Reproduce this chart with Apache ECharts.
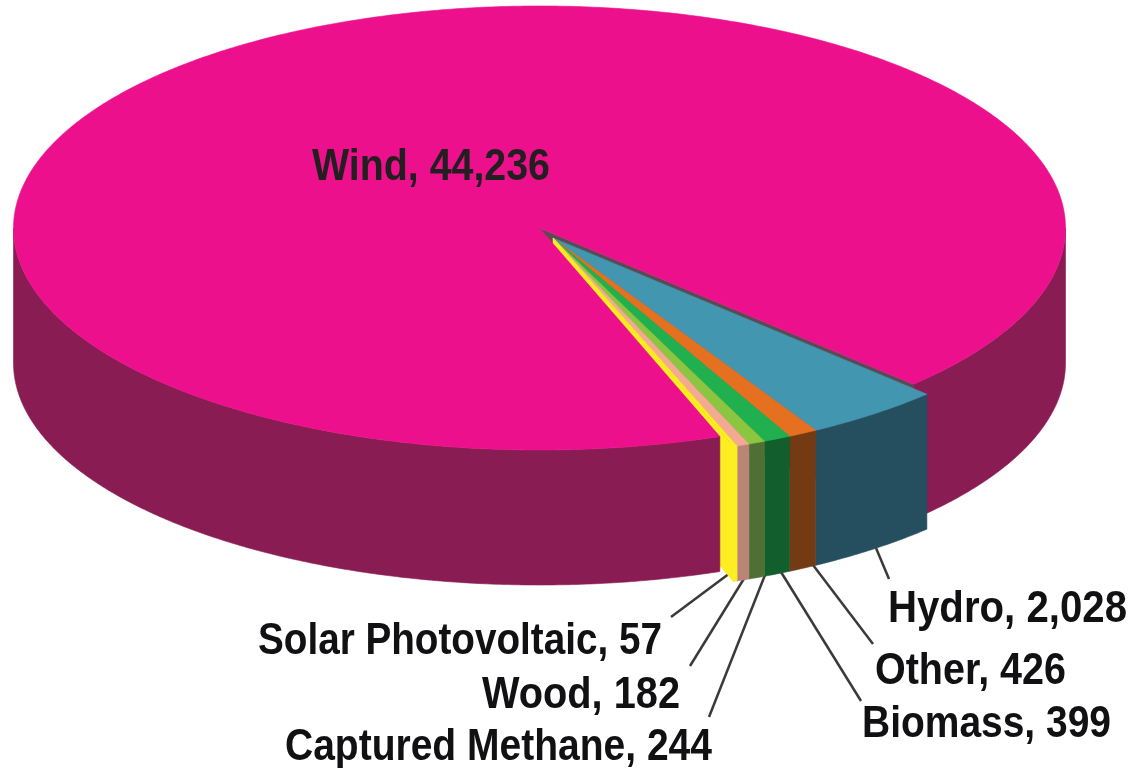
<!DOCTYPE html>
<html>
<head>
<meta charset="utf-8">
<style>
  html, body { margin: 0; background: #fff; }
  #chart { width: 1132px; height: 768px; }
</style>
<script src="https://cdn.jsdelivr.net/npm/echarts@6/dist/echarts.min.js"></script>
</head>
<body>
<div id="chart"></div>
<script>
// clockwise from the right edge of the pulled out wedge
const categories = ['Hydro', 'Other', 'Biomass', 'Captured Methane', 'Wood', 'Solar Photovoltaic', 'Wind']
const values = [2028, 426, 399, 244, 182, 57, 44236]
const valueLabels = ['2,028', '426', '399', '244', '182', '57', '44,236']

const topColors = ['#4396b0', '#e5701f', '#21b04f', '#8cc540', '#f4a993', '#fcee21', '#ec108c']
const sideColors = ['#254f5f', '#743a14', '#125e2c', '#4f6f35', '#ba8476', '#fcee21', '#8a1c54']
const innerWallColor = '#5b4a55'
const leaderColor = '#3a3a3a'

// projected pie
const pie = { cx: 539.5, cy: 228, rx: 526, ry: 222, depth: 135, startAngle: 44.7 }
const wedgeShift = [13.5, 10]

// hand placed text, same order as categories: left, right, vertical middle
const labelBoxes = [
  [888, 1127, 610],
  [875, 1066, 672],
  [862, 1111, 725],
  [285, 712, 748],
  [482, 680, 696],
  [258, 662, 642],
  [312, 550, 168]
]
// leader lines: from the pie edge out to the text
const leaders = [
  [876, 548, 889, 579],
  [813, 565, 873, 644],
  [781, 572, 861, 701],
  [765, 575, 709, 717],
  [745, 577, 690, 666],
  [730, 573, 671, 617],
  null
]

const labelFont = 'bold 44px "Liberation Sans", Arial, sans-serif'
const measure = document.createElement('canvas').getContext('2d')
measure.font = labelFont

const total = values.reduce((a, b) => a + b, 0)
const windIdx = categories.indexOf('Wind')

function sweepOf(i) {
  return values[i] / total * 360
}

function startOf(i) {
  let a = pie.startAngle
  for (let k = 0; k < i; k++) a += sweepOf(k)
  return a
}

function point(deg, center, drop) {
  const r = deg * Math.PI / 180
  return [
    center[0] + pie.rx * Math.cos(r),
    center[1] + pie.ry * Math.sin(r) + (drop || 0)
  ]
}

function arc(from, to, center, drop) {
  const n = Math.max(2, Math.ceil(Math.abs(to - from) * 2))
  const pts = []
  for (let k = 0; k <= n; k++) {
    pts.push(point(from + (to - from) * k / n, center, drop))
  }
  return pts
}

function poly(points, fill, z2) {
  return {
    type: 'polygon',
    z2,
    shape: { points },
    style: { fill, stroke: fill, lineWidth: 0.6 }
  }
}

// outer wall of the part of [from, to] that faces the viewer
function rimWall(from, to, center, fill, z2) {
  const a = Math.max(from, 0)
  const b = Math.min(to, 180)
  if (b <= a) return []
  const top = arc(a, b, center, 0)
  const bottom = arc(b, a, center, pie.depth)
  return [poly(top.concat(bottom), fill, z2)]
}

function renderSlice(params, api) {
  const i = params.dataIndex
  const from = startOf(i)
  const to = from + sweepOf(i)
  const isWind = i === windIdx
  const center = isWind
    ? [pie.cx, pie.cy]
    : [pie.cx + wedgeShift[0], pie.cy + wedgeShift[1]]
  const children = []

  if (isWind) {
    // wall left by the cut, under the pink top
    const c = center
    children.push(poly([c, point(to, c, 0), point(to, c, pie.depth), [c[0], c[1] + pie.depth]], innerWallColor, 1))
    children.push(...rimWall(from, to, c, sideColors[i], 3))
    children.push(...rimWall(from - 360, to - 360, c, sideColors[i], 3))
    children.push(poly([c].concat(arc(from, to, c, 0)), topColors[i], 4))
  } else {
    if (categories[i] === 'Solar Photovoltaic') {
      // cut face of the wedge, seen next to the pink wall
      children.push(poly([center, point(to, center, 0), point(to, center, pie.depth), [center[0], center[1] + pie.depth]], sideColors[i], 2))
    }
    children.push(...rimWall(from, to, center, sideColors[i], 5))
    children.push(poly([center].concat(arc(from, to, center, 0)), topColors[i], 6))
  }

  const lead = leaders[i]
  if (lead) {
    children.push({
      type: 'line',
      z2: 0,
      shape: { x1: lead[0], y1: lead[1], x2: lead[2], y2: lead[3] },
      style: { stroke: leaderColor, lineWidth: 2.5 }
    })
  }

  const text = categories[i] + ', ' + valueLabels[i]
  const box = labelBoxes[i]
  children.push({
    type: 'text',
    z2: 10,
    x: box[0],
    y: box[2],
    scaleX: (box[1] - box[0]) / measure.measureText(text).width,
    style: {
      text,
      font: labelFont,
      fill: isWind ? '#231f20' : '#111114',
      align: 'left',
      verticalAlign: 'middle'
    }
  })

  return { type: 'group', children }
}

const chart = echarts.init(document.getElementById('chart'))
chart.setOption({
  animation: false,
  backgroundColor: '#fff',
  series: [{
    type: 'custom',
    coordinateSystem: 'none',
    renderItem: renderSlice,
    data: values.map((v, i) => ({ name: categories[i], value: [v] }))
  }]
})
</script>
</body>
</html>
